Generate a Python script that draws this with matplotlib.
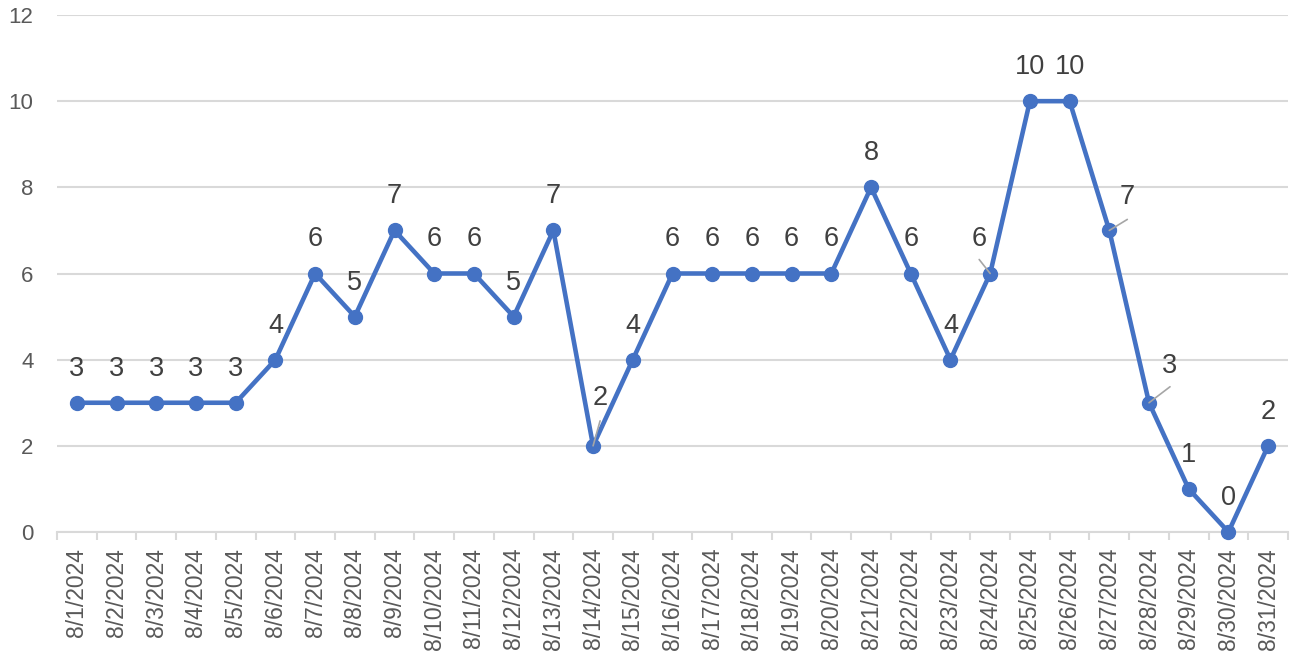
import matplotlib
matplotlib.use("Agg")
import matplotlib.pyplot as plt
import numpy as np

dates = [f"8/{d}/2024" for d in range(1, 32)]
values = [3, 3, 3, 3, 3, 4, 6, 5, 7, 6, 6, 5, 7, 2, 4, 6, 6, 6, 6, 6, 8, 6, 4, 6, 10, 10, 7, 3, 1, 0, 2]
y_ticks = [0, 2, 4, 6, 8, 10, 12]

# label offsets in pixels (default and special ones with leader lines)
default_off = (0, 34)
special_off = {13: ((7, 48), (7, 25)), 23: ((-11, 35), (-11, 14)),
               26: ((18, 33), (18, 11)), 27: ((21, 37), (21, 16))}

plt.rcParams['font.family'] = ['Liberation Sans', 'DejaVu Sans']

fig = plt.figure(figsize=(12.91, 6.56), dpi=100)
ax = fig.add_axes([57/1291, 124/656, (1288-57)/1291, (532-15)/656])

x = np.arange(len(values))
ax.plot(x, values, color='#4472C4', lw=3.3, marker='o', ms=10, zorder=3,
        solid_joinstyle='round', clip_on=False)

ax.set_xlim(-0.5, len(values) - 0.5)
ax.set_ylim(0, 12)
ax.set_yticks(y_ticks)
ax.set_yticklabels([str(t) for t in y_ticks])
ax.grid(axis='y', color='#D9D9D9', lw=1.5, zorder=0)
ax.set_axisbelow(True)

ax.set_xticks(x)
ax.set_xticklabels(dates, rotation=90, va='top', ha='center')
ax.set_xticks(np.arange(-0.5, len(values), 1), minor=True)
ax.tick_params(axis='x', which='major', length=0, pad=11.5, labelsize=16.5, labelcolor='#595959')
ax.tick_params(axis='x', which='minor', length=5.5, width=1.5, color='#D9D9D9')
ax.tick_params(axis='y', length=0, pad=17, labelsize=16, labelcolor='#595959')

for s in ['top', 'right', 'left']:
    ax.spines[s].set_visible(False)
ax.spines['bottom'].set_color('#D9D9D9')
ax.spines['bottom'].set_linewidth(1.5)

for i, v in enumerate(values):
    if i in special_off:
        toff, loff = special_off[i]
        ax.annotate('', xy=(i, v), xytext=loff, textcoords='offset pixels',
                    arrowprops=dict(arrowstyle='-', color='#A6A6A6', lw=1.2,
                                    shrinkA=0, shrinkB=0), zorder=4)
    else:
        toff = default_off
    ax.annotate(str(v), xy=(i, v), xytext=toff, textcoords='offset pixels',
                ha='center', va='center', fontsize=19.5, color='#404040', zorder=5)

fig.savefig('out.png', dpi=100)
